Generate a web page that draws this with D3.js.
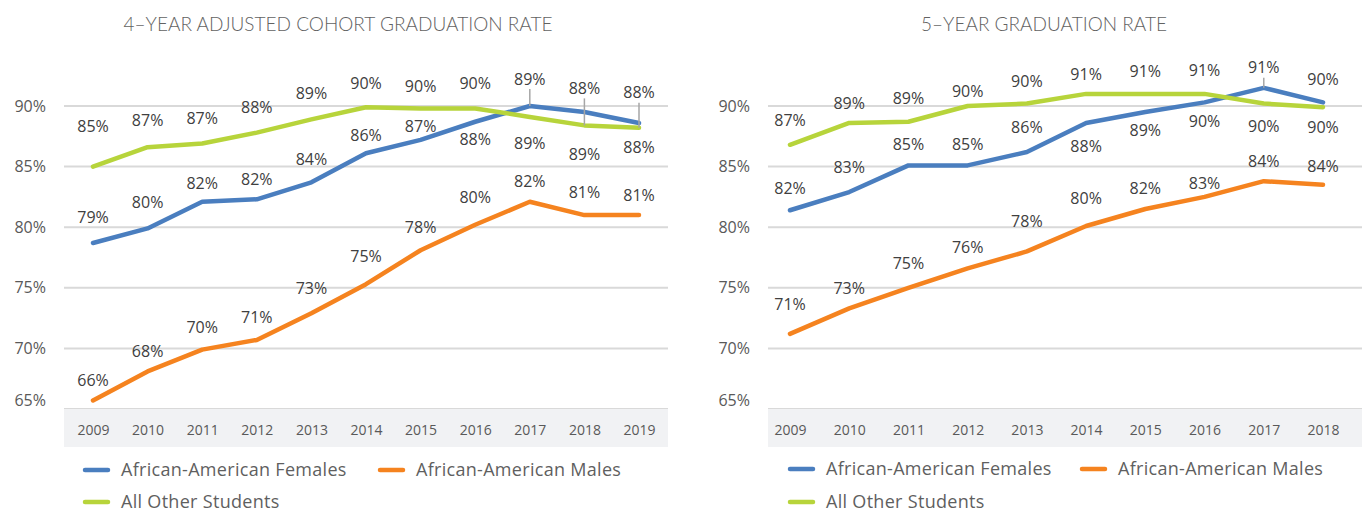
<!DOCTYPE html>
<html>
<head>
<meta charset="utf-8">
<script src="https://cdn.jsdelivr.net/npm/d3@7"></script>
<style>
  body { margin: 0; background: #fff; }
  svg { display: block; }
</style>
</head>
<body>
<div id="chart"></div>
<script>
// ---- data ----
const seriesNames = ['African-American Females', 'African-American Males', 'All Other Students'];
const yTicks = [65, 70, 75, 80, 85, 90];

const years4 = [2009, 2010, 2011, 2012, 2013, 2014, 2015, 2016, 2017, 2018, 2019];
const females4 = [78.7, 79.9, 82.1, 82.3, 83.7, 86.1, 87.2, 88.7, 90.0, 89.5, 88.6];
const males4 = [65.7, 68.1, 69.9, 70.7, 72.9, 75.3, 78.1, 80.2, 82.1, 81.0, 81.0];
const others4 = [85.0, 86.6, 86.9, 87.8, 88.9, 89.9, 89.8, 89.8, 89.1, 88.4, 88.2];
const femalesLabels4 = ['79%', '80%', '82%', '82%', '84%', '86%', '87%', '88%', '89%', '89%', '88%'];
const malesLabels4 = ['66%', '68%', '70%', '71%', '73%', '75%', '78%', '80%', '82%', '81%', '81%'];
const othersLabels4 = ['85%', '87%', '87%', '88%', '89%', '90%', '90%', '90%', '89%', '88%', '88%'];

const years5 = [2009, 2010, 2011, 2012, 2013, 2014, 2015, 2016, 2017, 2018];
const females5 = [81.4, 82.9, 85.1, 85.1, 86.2, 88.6, 89.5, 90.3, 91.5, 90.3];
const males5 = [71.2, 73.3, 75.0, 76.6, 78.0, 80.1, 81.5, 82.5, 83.8, 83.5];
const others5 = [86.8, 88.6, 88.7, 90.0, 90.2, 91.0, 91.0, 91.0, 90.2, 89.9];
const femalesLabels5 = ['82%', '83%', '85%', '85%', '86%', '88%', '89%', '90%', '91%', '90%'];
const malesLabels5 = ['71%', '73%', '75%', '76%', '78%', '80%', '82%', '83%', '84%', '84%'];
const othersLabels5 = ['87%', '89%', '89%', '90%', '90%', '91%', '91%', '91%', '90%', '90%'];

// ---- layout / style ----
const colors = ['#4a7ebf', '#f5831f', '#b7d43b'];
const W = 1364, H = 513;

const svg = d3.select('#chart').append('svg')
  .attr('width', W).attr('height', H)
  .style('font-family', '"Open Sans", sans-serif');

function drawChart(opt) {
  const x = d3.scalePoint().domain(opt.years).range(opt.pointRange);
  const y = d3.scaleLinear().domain([65, 90]).range([409, 106]);
  const g = svg.append('g');

  // title
  g.append('text')
    .attr('x', opt.titleX).attr('y', 31)
    .attr('text-anchor', 'middle')
    .attr('textLength', opt.titleW)
    .attr('lengthAdjust', 'spacingAndGlyphs')
    .style('font-family', 'Lato, sans-serif')
    .style('font-weight', 300)
    .style('font-size', '20px')
    .style('fill', '#626262')
    .text(opt.title);

  // gridlines
  g.selectAll('.grid').data(yTicks).join('line')
    .attr('x1', opt.left).attr('x2', opt.right)
    .attr('y1', d => y(d)).attr('y2', d => y(d))
    .attr('stroke', '#d9d9d9').attr('stroke-width', 2);

  // y labels
  g.selectAll('.ylab').data(yTicks).join('text')
    .attr('x', opt.left - 18)
    .attr('y', d => y(d) - (d === 65 ? 9 : 0))
    .attr('dy', '0.35em')
    .attr('text-anchor', 'end')
    .style('font-size', '16px')
    .style('fill', '#595959')
    .text(d => d + '%');

  // category band
  g.append('rect')
    .attr('x', opt.left).attr('y', 409)
    .attr('width', opt.right - opt.left).attr('height', 38)
    .attr('fill', '#f1f2f4');

  const xAxis = g.append('g')
    .attr('transform', 'translate(0,409)')
    .call(d3.axisBottom(x).tickSize(0).tickPadding(16).tickFormat(d3.format('d')));
  xAxis.select('.domain').remove();
  xAxis.selectAll('text')
    .style('font-family', '"Open Sans", sans-serif')
    .style('font-size', '14px')
    .style('fill', '#595959');

  const line = d3.line()
    .x((d, i) => x(opt.years[i]))
    .y(d => y(d));

  // draw order: males, females, others (green on top)
  [1, 0, 2].forEach(s => {
    g.append('path')
      .attr('d', line(opt.series[s]))
      .attr('fill', 'none')
      .attr('stroke', colors[s])
      .attr('stroke-width', 4.5)
      .attr('stroke-linecap', 'round')
      .attr('stroke-linejoin', 'round');
  });

  // leader lines
  opt.leaders.forEach(([s, i]) => {
    const px = x(opt.years[i]);
    const py = y(opt.series[s][i]);
    const ly = py + opt.labelDy[s][i];
    g.append('line')
      .attr('x1', px).attr('x2', px)
      .attr('y1', ly + 10).attr('y2', py)
      .attr('stroke', '#a6a6a6').attr('stroke-width', 1.5);
  });

  // data labels
  opt.series.forEach((vals, s) => {
    g.selectAll('.lab' + s).data(vals).join('text')
      .attr('x', (d, i) => x(opt.years[i]))
      .attr('y', (d, i) => y(d) + opt.labelDy[s][i])
      .attr('dy', '0.35em')
      .attr('text-anchor', 'middle')
      .style('font-size', '16px')
      .style('fill', '#404040')
      .text((d, i) => opt.labels[s][i]);
  });

  // legend
  const items = [
    { s: 0, x: opt.legendX[0], y: opt.legendY[0] },
    { s: 1, x: opt.legendX[1], y: opt.legendY[0] },
    { s: 2, x: opt.legendX[0], y: opt.legendY[1] }
  ];
  items.forEach(it => {
    g.append('line')
      .attr('x1', it.x).attr('x2', it.x + 23)
      .attr('y1', it.y).attr('y2', it.y)
      .attr('stroke', colors[it.s]).attr('stroke-width', 4.5)
      .attr('stroke-linecap', 'round');
    g.append('text')
      .attr('x', it.x + 36).attr('y', it.y)
      .attr('dy', '0.35em')
      .style('font-size', '18px')
      .style('letter-spacing', '0.3px')
      .style('fill', '#5f5f5f')
      .text(seriesNames[it.s]);
  });
}

drawChart({
  title: '4\u2013YEAR ADJUSTED COHORT GRADUATION RATE',
  titleX: 338, titleW: 429,
  years: years4,
  left: 64, right: 668,
  pointRange: [93, 639],
  series: [females4, males4, others4],
  labels: [femalesLabels4, malesLabels4, othersLabels4],
  labelDy: [
    [-26, -26, -18, -20, -23, -18, -14, 18, -27, 42, 24],
    [-20, -20, -22, -23, -25, -28, -23, -27, -20, -23, -20],
    [-40, -27, -25, -25, -26, -24, -22, -25, 26, -37, -35]
  ],
  leaders: [[0, 8], [2, 9], [2, 10]],
  legendX: [85, 380],
  legendY: [470, 502]
});

drawChart({
  title: '5\u2013YEAR GRADUATION RATE',
  titleX: 1044, titleW: 246,
  years: years5,
  left: 768, right: 1362,
  pointRange: [790, 1323],
  series: [females5, males5, others5],
  labels: [femalesLabels5, malesLabels5, othersLabels5],
  labelDy: [
    [-22, -25, -21, -21, -25, 23, 18, 19, -20, -23],
    [-29, -20, -24, -21, -30, -28, -21, -14, -20, -18],
    [-24, -20, -23, -15, -22, -19, -22, -23, 23, 20]
  ],
  leaders: [[0, 8]],
  legendX: [790, 1082],
  legendY: [469, 502]
});
</script>
</body>
</html>
